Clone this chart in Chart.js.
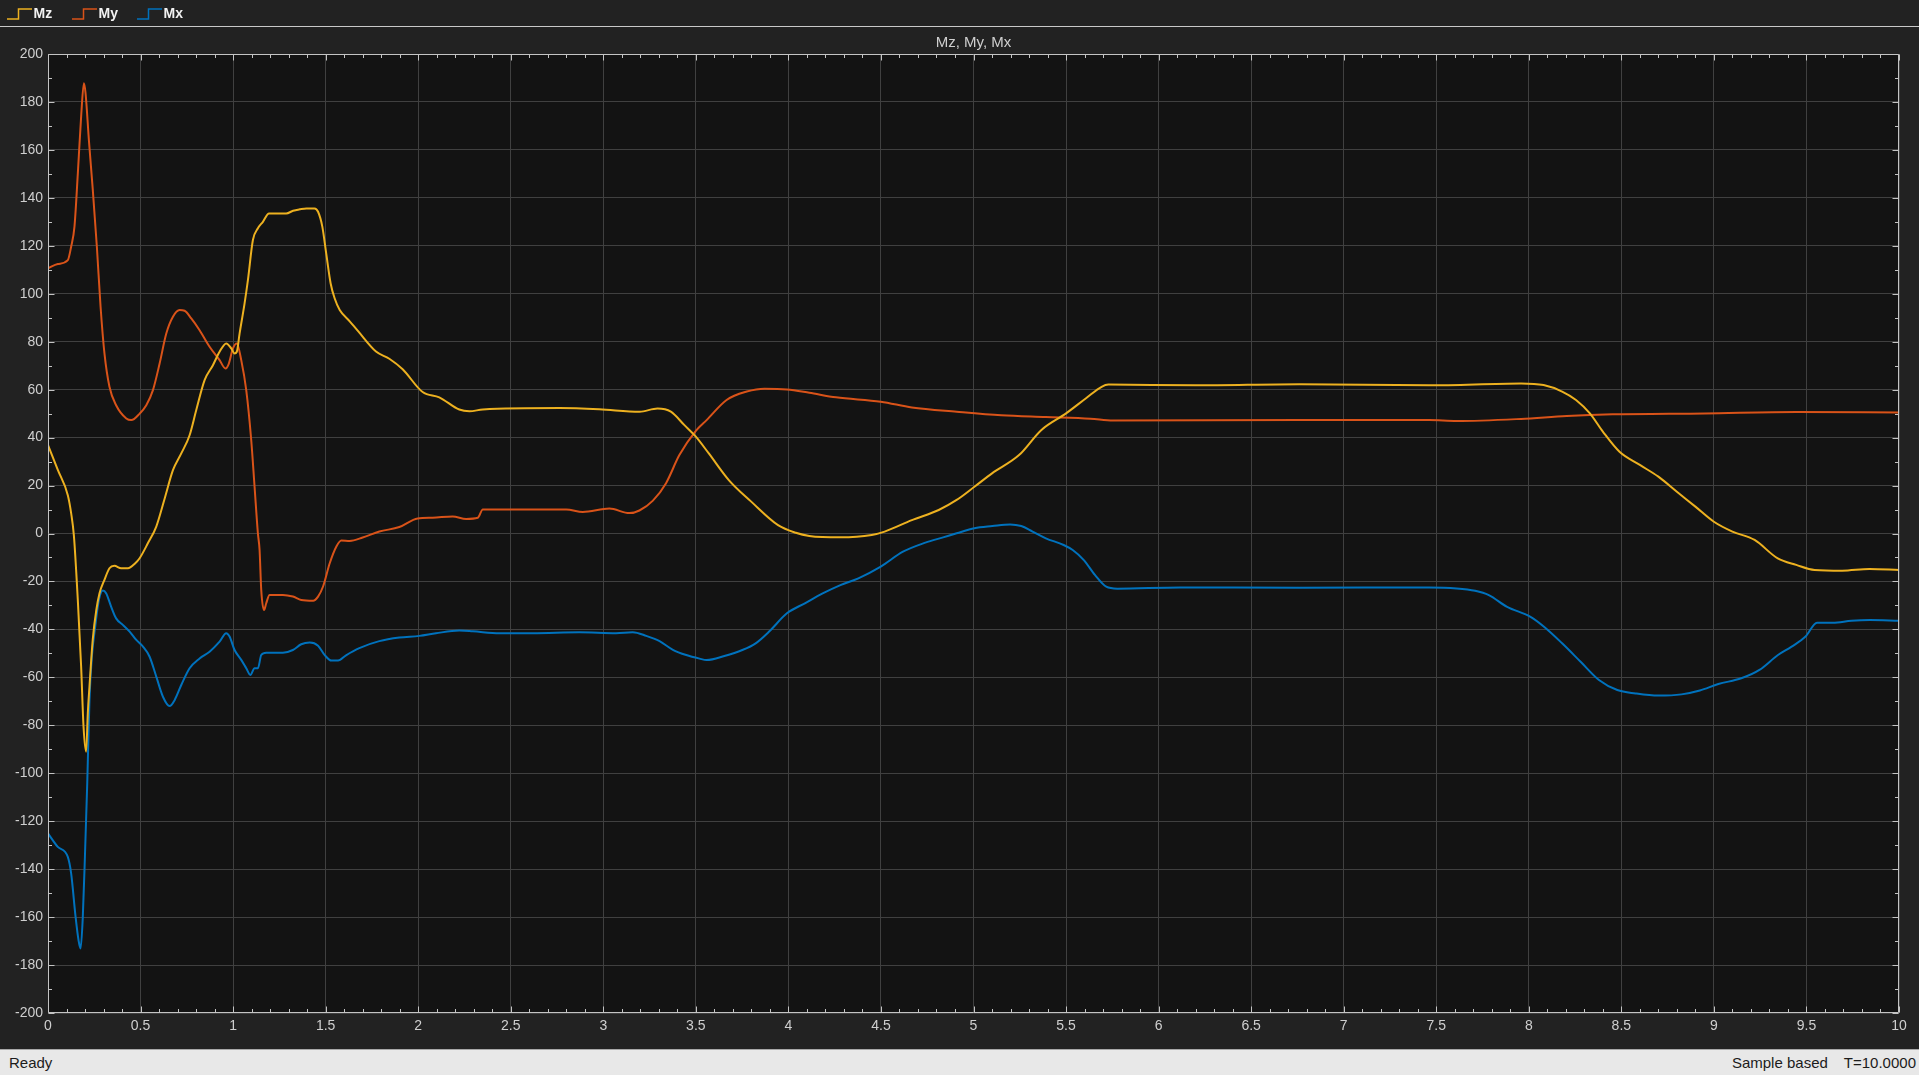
<!DOCTYPE html>
<html>
<head>
<meta charset="utf-8">
<script src="https://cdn.jsdelivr.net/npm/chart.js@4/dist/chart.umd.min.js"></script>
<style>
  html, body { margin:0; padding:0; background:#222222; width:1919px; height:1075px; overflow:hidden; }
  #wrap { position:absolute; left:0; top:0; width:1919px; height:1049px; }
  #legend { position:absolute; left:0; top:0; width:1919px; height:26px; border-bottom:1px solid #c9c9c9; box-sizing:content-box; pointer-events:none; }
  .item { position:absolute; top:0; height:26px; }
  .item svg { position:absolute; left:0; top:7.5px; }
  .item span { position:absolute; left:26.5px; top:5px; font:bold 14px "Liberation Sans", Arial, sans-serif; color:#f2f2f2; white-space:nowrap; }
  #status { position:absolute; left:0; top:1049px; width:1919px; height:26px; background:#e8e8e8; border-top:1px solid #a8a8a8; box-sizing:border-box; font:15px "Liberation Sans", Arial, sans-serif; color:#1c1c1c; line-height:25px; }
  #status .l { position:absolute; left:9px; top:0; }
  #status .r { position:absolute; right:3px; top:0; white-space:nowrap; }
</style>
</head>
<body>
<div id="wrap"><canvas id="c"></canvas></div>
<div id="legend"></div>
<div id="status"><span class="l">Ready</span><span class="r">Sample based<span style="margin-left:16px">T=10.0000</span></span></div>
<script>
// ---- data ----
const seriesNames = ['Mz', 'My', 'Mx'];
const seriesColors = ['#EDB120', '#D95319', '#0072BD'];
const chartTitle = 'Mz, My, Mx';

const mzT = [0,0.053,0.107,0.125,0.14,0.161,0.179,0.192,0.206,0.215,0.224,0.242,0.261,0.278,0.305,0.332,0.359,0.395,0.432,0.47,0.495,0.54,0.585,0.63,0.675,0.72,0.765,0.801,0.846,0.891,0.927,0.963,0.99,1.008,1.02,1.035,1.062,1.08,1.107,1.134,1.161,1.194,1.287,1.324,1.36,1.396,1.44,1.459,1.482,1.503,1.527,1.549,1.576,1.63,1.673,1.772,1.844,1.916,2.024,2.114,2.222,2.277,2.349,2.763,2.979,3.196,3.293,3.365,3.437,3.5,3.57,3.678,3.799,3.944,4.04,4.113,4.281,4.45,4.52,4.667,4.812,4.909,5.005,5.1,5.246,5.367,5.5,5.608,5.692,5.729,6.2,6.76,7.46,7.958,8.08,8.18,8.255,8.33,8.4,8.49,8.6,8.7,8.8,8.9,9.0,9.1,9.22,9.345,9.445,9.544,9.693,9.84,10];
const mzV = [36.9,26.5,16,8.5,-1,-27.7,-55.5,-80.6,-91,-75,-63.9,-44,-31.9,-25,-19.3,-14.5,-13.5,-14.5,-14.5,-12.5,-10.3,-4,2.9,14.5,26.4,33.4,41,51.5,64,70.2,75.8,79.3,77.2,75.1,75.8,83.4,96,105.7,122.4,127.3,130,133.5,133.5,134.6,135.2,135.6,135.6,134.2,128,116.8,104.3,98,93.2,88.5,84.6,75.9,72.9,68.5,59,56.8,51.7,51,51.7,52.3,51.8,50.8,52.1,50.8,45.3,40.4,33.4,22.3,13.3,3.5,0.3,-1,-1.6,-0.6,0.8,5.6,9.8,14,19.5,25.1,32.7,43.2,50.1,56.4,61.2,62.1,61.8,62.3,61.8,62.6,61.9,59.2,55.7,50.1,42.5,34.1,28.6,23.7,17.4,11.2,4.9,0.8,-2.7,-10.4,-13.1,-15.2,-15.5,-14.8,-15.2];

const myT = [0,0.053,0.107,0.125,0.143,0.161,0.179,0.194,0.203,0.221,0.242,0.264,0.284,0.305,0.332,0.368,0.423,0.45,0.495,0.531,0.567,0.603,0.639,0.675,0.711,0.738,0.774,0.819,0.873,0.927,0.959,0.977,0.999,1.02,1.044,1.071,1.098,1.116,1.134,1.143,1.152,1.167,1.179,1.197,1.269,1.323,1.368,1.432,1.459,1.486,1.522,1.558,1.585,1.63,1.70,1.79,1.898,1.997,2.078,2.186,2.259,2.322,2.349,2.619,2.80,2.889,3.033,3.141,3.195,3.268,3.339,3.411,3.501,3.558,3.666,3.775,3.871,3.992,4.113,4.257,4.499,4.667,4.909,5.15,5.39,5.632,5.753,6.761,7.462,7.61,7.958,8.205,8.453,8.95,9.445,10];
const myV = [110.6,112.4,114,119.6,128,150,173.9,187.8,183.6,164,143.3,119.6,94.6,75.1,61.2,53.5,48,47.3,50,53.5,59.8,70.9,83.4,90.4,93.2,92.9,89.7,84.8,77.9,72.3,68.8,70.9,77.2,79.3,72.3,59.8,38.9,19.5,0,-6.8,-23.5,-31.9,-29.1,-25.6,-25.6,-26.3,-27.7,-28,-26.3,-22.1,-12.4,-5.4,-2.9,-3.1,-1.7,0.8,2.7,6.3,6.6,7.1,6.1,6.6,10,10,10,9,10.4,8.5,9.6,13.7,21,32.7,42.9,47.3,55.7,59.2,60.4,60.1,58.7,56.8,55,52.6,50.8,49.3,48.6,47.9,47.1,47.3,47.3,46.9,47.8,49,49.7,50.1,50.7,50.5];

const mxT = [0,0.053,0.107,0.125,0.149,0.165,0.176,0.188,0.2,0.212,0.224,0.237,0.255,0.275,0.296,0.314,0.341,0.368,0.404,0.441,0.477,0.513,0.549,0.585,0.621,0.657,0.684,0.72,0.765,0.819,0.873,0.927,0.963,0.981,1.008,1.044,1.071,1.093,1.116,1.134,1.152,1.179,1.269,1.323,1.368,1.414,1.459,1.495,1.531,1.567,1.61,1.682,1.79,1.898,2.006,2.096,2.222,2.295,2.439,2.619,2.871,3.069,3.159,3.232,3.304,3.376,3.448,3.52,3.558,3.654,3.751,3.823,3.896,3.992,4.089,4.185,4.281,4.378,4.499,4.619,4.74,4.836,4.909,5.005,5.102,5.198,5.258,5.319,5.391,5.487,5.536,5.596,5.656,5.717,5.777,6.115,6.761,7.462,7.61,7.71,7.784,7.883,8.007,8.082,8.18,8.28,8.379,8.478,8.577,8.70,8.825,8.924,9.024,9.148,9.246,9.346,9.42,9.495,9.557,9.643,9.743,9.842,10];
const mxV = [-125.1,-130.7,-134.9,-141.8,-159.9,-169.7,-173.1,-160,-133.5,-104.2,-69.5,-51.4,-38.8,-27.7,-23.8,-24.9,-30.5,-35.4,-38.1,-40.9,-44.4,-47.2,-51.4,-59.7,-68.1,-72,-69.5,-63.2,-56.2,-52.1,-49.3,-45.1,-41.6,-43,-48.6,-52.7,-56.2,-59,-56.2,-56.2,-50.7,-49.7,-49.7,-48.6,-46.2,-45.5,-46.8,-50.7,-53,-53,-50.8,-47.8,-44.9,-43.4,-42.7,-41.6,-40.5,-40.8,-41.6,-41.6,-41.2,-41.6,-41.2,-42.7,-44.9,-48.5,-50.7,-52.2,-52.8,-51.1,-48.6,-45.8,-40.9,-33.3,-29.1,-25,-21.5,-18.7,-13.8,-7.6,-3.8,-1.6,0.1,2.2,3.1,3.8,3.1,0.8,-2,-4.8,-6.9,-11.1,-17.3,-22.2,-23,-22.5,-22.6,-22.5,-22.9,-23.9,-25.7,-30.6,-34.7,-38.9,-45.8,-53.5,-61.1,-65.3,-66.7,-67.6,-67.1,-65.5,-62.8,-60.4,-56.9,-50.7,-47.2,-43,-37.2,-37.2,-36.4,-36.1,-36.4];

const xMin = 0, xMax = 10, xStep = 0.5, xMinor = 0.1;
const yMin = -200, yMax = 200, yStep = 20, yMinor = 10;

// ---- legend (HTML) ----
const legendLefts = [7, 72, 137];
const lg = document.getElementById('legend');
seriesNames.forEach((n, i) => {
  const d = document.createElement('div');
  d.className = 'item';
  d.style.left = legendLefts[i] + 'px';
  d.innerHTML = '<svg width="25" height="12"><polyline points="0,11 11.5,11 11.5,1 25,1" fill="none" stroke="' + seriesColors[i] + '" stroke-width="1.5"/></svg><span>' + n + '</span>';
  lg.appendChild(d);
});

const pairs = (T, V) => T.map((t, i) => ({x: t, y: V[i]}));
const allT = [mzT, myT, mxT], allV = [mzV, myV, mxV];
const fmt = v => String(Math.round(v * 100) / 100);

const frame = {
  id: 'frame',
  beforeDraw(chart) {
    const {ctx, chartArea: a} = chart;
    ctx.save();
    ctx.fillStyle = '#222222';
    ctx.fillRect(0, 0, chart.width, chart.height);
    ctx.fillStyle = '#131313';
    ctx.fillRect(a.left, a.top, a.right - a.left, a.bottom - a.top);
    ctx.restore();
  },
  afterDraw(chart) {
    const {ctx, chartArea: a, scales} = chart;
    const L = Math.round(a.left) + 0.5, R = Math.round(a.right) - 0.5;
    const T = Math.round(a.top) + 0.5, B = Math.round(a.bottom) - 0.5;
    ctx.save();
    ctx.strokeStyle = '#c4c4c4';
    ctx.lineWidth = 1;
    ctx.beginPath();
    ctx.rect(L, T, R - L, B - T);
    ctx.stroke();
    ctx.beginPath();
    const nx = Math.round((xMax - xMin) / xMinor);
    for (let k = 0; k <= nx; k++) {
      const v = xMin + k * xMinor;
      const major = (k % Math.round(xStep / xMinor)) === 0;
      const len = major ? 6 : 3.5;
      const p = Math.round(scales.x.getPixelForValue(v)) + 0.5;
      ctx.moveTo(p, B); ctx.lineTo(p, B - len);
      ctx.moveTo(p, T); ctx.lineTo(p, T + len);
    }
    const ny = Math.round((yMax - yMin) / yMinor);
    for (let k = 0; k <= ny; k++) {
      const v = yMin + k * yMinor;
      const major = (k % Math.round(yStep / yMinor)) === 0;
      const len = major ? 6 : 3.5;
      const p = Math.round(scales.y.getPixelForValue(v)) + 0.5;
      ctx.moveTo(L, p); ctx.lineTo(L + len, p);
      ctx.moveTo(R, p); ctx.lineTo(R - len, p);
    }
    ctx.stroke();
    ctx.restore();
  }
};

new Chart(document.getElementById('c'), {
  type: 'line',
  data: {
    datasets: seriesNames.map((n, i) => ({
      label: n,
      data: pairs(allT[i], allV[i]),
      borderColor: seriesColors[i],
      backgroundColor: seriesColors[i],
      borderWidth: 2,
      pointRadius: 0,
      cubicInterpolationMode: 'monotone',
      fill: false
    }))
  },
  options: {
    responsive: true,
    maintainAspectRatio: false,
    animation: false,
    events: [],
    layout: { padding: { top: 27, right: 20, bottom: 0, left: 0 } },
    plugins: {
      legend: { display: false },
      tooltip: { enabled: false },
      title: {
        display: true,
        text: chartTitle,
        fullSize: false,
        color: '#cfcfcf',
        font: { family: '"Liberation Sans", Arial, sans-serif', size: 15, weight: 'normal' },
        padding: { top: 7, bottom: 2 }
      }
    },
    scales: {
      x: {
        type: 'linear',
        min: xMin, max: xMax,
        afterFit(s) { s.height = 36; },
        ticks: { stepSize: xStep, color: '#cfcfcf', padding: 5, maxRotation: 0, autoSkip: false,
                 callback: v => fmt(v),
                 font: { family: '"Liberation Sans", Arial, sans-serif', size: 14 } },
        grid: { color: '#404040', lineWidth: 1, drawTicks: false },
        border: { display: false }
      },
      y: {
        type: 'linear',
        min: yMin, max: yMax,
        afterFit(s) { s.width = 48; },
        ticks: { stepSize: yStep, color: '#cfcfcf', padding: 5, autoSkip: false,
                 callback: v => fmt(v),
                 font: { family: '"Liberation Sans", Arial, sans-serif', size: 14 } },
        grid: { color: '#404040', lineWidth: 1, drawTicks: false },
        border: { display: false }
      }
    }
  },
  plugins: [frame]
});
</script>
</body>
</html>
